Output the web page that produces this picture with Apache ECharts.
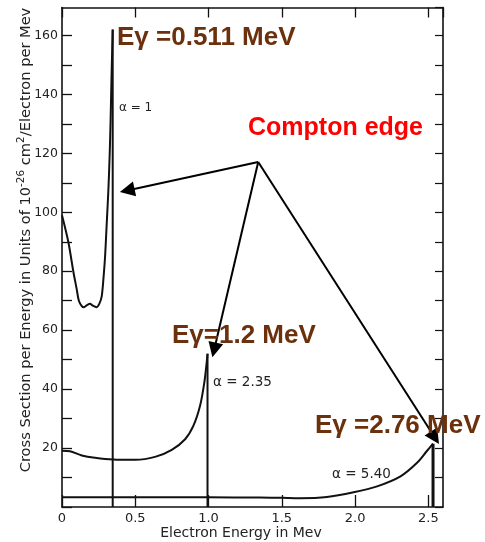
<!DOCTYPE html>
<html>
<head>
<meta charset="utf-8">
<script src="https://cdn.jsdelivr.net/npm/echarts@6/dist/echarts.min.js"></script>
<style>
  html, body { margin: 0; padding: 0; background: #fff; }
  #chart { width: 485px; height: 542px; }
</style>
</head>
<body>
<div id="chart"></div>
<script>
// Compton scattering: differential cross section per unit electron energy
// for three incident photon energies (alpha = E_gamma / m_e c^2).

// alpha = 1 (E_gamma = 0.511 MeV)
const energyA1 = [0, 0.043, 0.077, 0.100, 0.115, 0.135, 0.150, 0.170, 0.191, 0.210, 0.237, 0.255, 0.271, 0.282, 0.294, 0.305, 0.316, 0.325, 0.332, 0.338, 0.343, 0.346];
const sigmaA1  = [99, 90, 80, 74, 70, 68.2, 67.8, 68.5, 69, 68.3, 67.8, 69, 71.5, 77, 85, 96, 107, 119, 132, 146, 156, 162];

// alpha = 2.35 (E_gamma = 1.2 MeV)
const energyA2 = [0, 0.055, 0.135, 0.225, 0.35, 0.5, 0.635, 0.749, 0.84, 0.897, 0.943, 0.972, 0.988, 0.993];
const sigmaA2  = [19.1, 18.9, 17.5, 16.7, 16.1, 16.0, 17.0, 19.4, 23, 27.6, 34.5, 42.5, 49.3, 52];

// alpha = 5.40 (E_gamma = 2.76 MeV)
const energyA3 = [0, 0.5, 1.0, 1.35, 1.5, 1.626, 1.808, 1.99, 2.15, 2.31, 2.423, 2.49, 2.532];
const sigmaA3  = [3.3, 3.3, 3.3, 3.2, 3.1, 3.0, 3.4, 5.0, 7.0, 10.4, 15, 19, 21.5];

// Compton edges: maximum electron energy and cross section at the edge
const edgeEnergy = [0.346, 0.993, 2.532];
const edgeSigma  = [162, 52, 21.5];
const edgeWidth  = [2, 2, 3];

const alphaLabels  = ['α = 1', 'α = 2.35', 'α = 5.40'];
const photonLabels = ['Eγ =0.511 MeV', 'Eγ=1.2 MeV', 'Eγ =2.76 MeV'];

const xTickLabels = ['0', '0.5', '1.0', '1.5', '2.0', '2.5'];

const pair = (xs, ys) => xs.map((x, i) => [x, ys[i]]);

const INK = '#111';
const AXIS_FONT = 'DejaVu Sans';
const NOTE_FONT = 'Liberation Sans';
const BROWN = '#6b300c';

const chart = echarts.init(document.getElementById('chart'), null, { renderer: 'canvas' });

const frameAxis = {
  type: 'value',
  axisLine: { show: true, onZero: false, lineStyle: { color: INK, width: 1.6 } },
  splitLine: { show: false }
};

const curveSeries = [pair(energyA1, sigmaA1), pair(energyA2, sigmaA2), pair(energyA3, sigmaA3)].map(d => ({
  type: 'line',
  data: d,
  smooth: 0.3,
  showSymbol: false,
  lineStyle: { color: INK, width: 2 },
  silent: true,
  z: 3
}));

const edgeSeries = edgeEnergy.map((e, i) => ({
  type: 'line',
  data: [[e, edgeSigma[i]], [e, 0]],
  showSymbol: false,
  lineStyle: { color: INK, width: edgeWidth[i] },
  silent: true,
  z: 3
}));

// Pointers from the "Compton edge" caption to each edge
const arrowFrom = { coord: [1.339, 117.1], symbol: 'none' };
const arrowTips = [[0.445, 107.4], [1.038, 53.3], [2.545, 23.5]];
const arrowSeries = {
  type: 'line',
  data: [],
  silent: true,
  z: 5,
  markLine: {
    silent: true,
    animation: false,
    symbol: ['none', 'triangle'],
    symbolSize: 15,
    label: { show: false },
    lineStyle: { color: '#000', width: 2, type: 'solid' },
    data: arrowTips.map(t => [arrowFrom, { coord: t, symbol: 'triangle', symbolSize: 15 }])
  }
};

const noteText = (text, x, y, color, size, font, weight) => ({
  type: 'text', x: x, y: y, z: 10,
  style: { text: text, fill: color, font: (weight || 'bold') + ' ' + size + 'px "' + font + '"', align: 'left', verticalAlign: 'middle' }
});

chart.setOption({
  animation: false,
  backgroundColor: '#fff',
  grid: { left: 62, right: 42, top: 7.5, bottom: 35 },
  xAxis: [
    Object.assign({}, frameAxis, {
      min: 0, max: 2.6, interval: 0.5, position: 'bottom',
      axisTick: { show: true, inside: true, length: 12, lineStyle: { color: INK, width: 1.3 } },
      axisLabel: {
        margin: 5, color: '#222', fontFamily: AXIS_FONT, fontSize: 13, showMaxLabel: false,
        formatter: v => { const k = Math.round(v / 0.5); return Math.abs(v - k * 0.5) < 1e-6 ? (xTickLabels[k] || '') : ''; }
      }
    }),
    Object.assign({}, frameAxis, {
      min: 0, max: 2.6, interval: 0.5, position: 'top',
      axisTick: { show: true, inside: true, length: 10, lineStyle: { color: INK, width: 1.3 } },
      axisLabel: { show: false }
    })
  ],
  yAxis: [
    Object.assign({}, frameAxis, {
      min: 0, max: 169.5, interval: 10, position: 'left',
      axisTick: { show: true, inside: true, length: 10, lineStyle: { color: INK, width: 1.3 } },
      axisLabel: {
        margin: 4, color: '#222', fontFamily: AXIS_FONT, fontSize: 12.5, showMaxLabel: false,
        formatter: v => (v > 0 && v % 20 === 0) ? String(v) : ''
      }
    }),
    Object.assign({}, frameAxis, {
      min: 0, max: 169.5, interval: 10, position: 'right',
      axisTick: { show: true, inside: true, length: 8, lineStyle: { color: INK, width: 1.2 } },
      axisLabel: { show: false }
    })
  ],
  series: curveSeries.concat(edgeSeries, [arrowSeries]),
  graphic: [
    {
      type: 'text', x: 25, y: 240, rotation: Math.PI / 2, z: 10,
      style: {
        text: '{n|Cross Section per Energy in Units of 10}{s|-26}{n| cm}{s|2}{n|/Electron per Mev}',
        fill: '#222', align: 'center', verticalAlign: 'middle',
        rich: {
          n: { fontFamily: AXIS_FONT, fontSize: 14.6, fill: '#222', lineHeight: 18, verticalAlign: 'bottom' },
          s: { fontFamily: AXIS_FONT, fontSize: 10.5, fill: '#222', lineHeight: 18, verticalAlign: 'top' }
        }
      }
    },
    {
      type: 'text', x: 241, y: 533, z: 10,
      style: { text: 'Electron Energy in Mev', fill: '#222', font: '14px "DejaVu Sans"', align: 'center', verticalAlign: 'middle' }
    },
    noteText(alphaLabels[0], 119, 108, '#222', 12, AXIS_FONT, 'normal'),
    noteText(alphaLabels[1], 213, 382, '#222', 13.5, AXIS_FONT, 'normal'),
    noteText(alphaLabels[2], 332, 474, '#222', 13.5, AXIS_FONT, 'normal'),
    noteText(photonLabels[0], 117, 38, BROWN, 26, NOTE_FONT),
    noteText(photonLabels[1], 172, 336, BROWN, 26, NOTE_FONT),
    noteText(photonLabels[2], 315, 426, BROWN, 26, NOTE_FONT),
    noteText('Compton edge', 248, 128, '#ff0000', 25, NOTE_FONT)
  ]
});
</script>
</body>
</html>
